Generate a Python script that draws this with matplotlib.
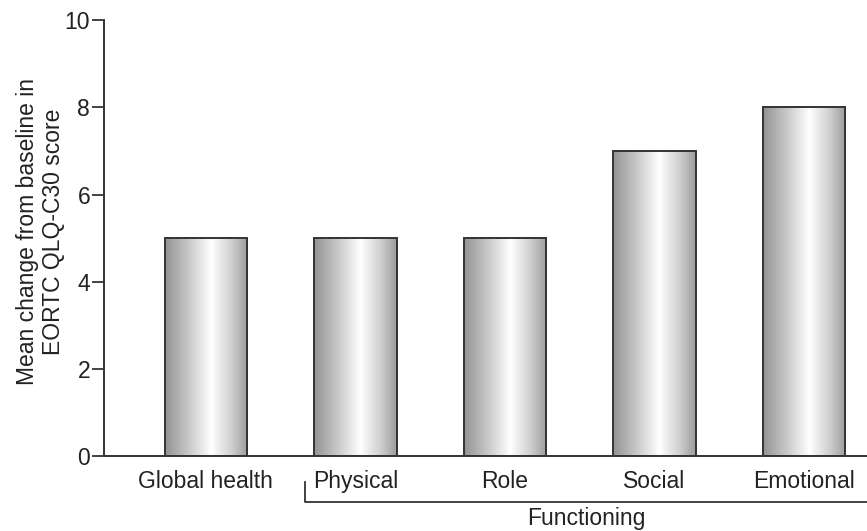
import numpy as np
import matplotlib.pyplot as plt
from matplotlib.colors import LinearSegmentedColormap

plt.rcParams['font.family'] = ['Liberation Sans', 'DejaVu Sans']

categories = ['Global health', 'Physical', 'Role', 'Social', 'Emotional']
values = [5, 5, 5, 7, 8]
yticks = [0, 2, 4, 6, 8, 10]
ylabel = 'Mean change from baseline in\nEORTC QLQ-C30 score'
group_label = 'Functioning'

# cylinder-like shading across each bar
shade = LinearSegmentedColormap.from_list(
    'cyl', [(0.0, '#939393'), (0.3, '#cbcbcb'), (0.56, '#ffffff'),
            (0.8, '#d0d0d0'), (1.0, '#9c9c9c')])
grad = np.linspace(0, 1, 256).reshape(1, -1)

fs = 16.5
fig = plt.figure(figsize=(8.67, 5.31), dpi=100)
ax = fig.add_axes([0.12, 0.141, 0.88, 0.821])

x = np.arange(len(categories))
width = 0.55
bars = ax.bar(x, values, width=width, facecolor='none', edgecolor='#333333',
              linewidth=1.4, zorder=3)
for b in bars:
    x0, w, h = b.get_x(), b.get_width(), b.get_height()
    ax.imshow(grad, cmap=shade, aspect='auto', extent=(x0, x0 + w, 0, h),
              interpolation='bilinear', zorder=2)

ax.set_xlim(-0.68, 4.42)
ax.set_ylim(0, 10)
ax.set_yticks(yticks)
ax.set_xticks(x)
ax.set_xticklabels(categories, fontsize=fs, color='#222222')
ax.tick_params(axis='x', length=0, pad=10)
ax.tick_params(axis='y', length=9, width=1.2, labelsize=fs, colors='#222222', pad=1)
ax.spines['top'].set_visible(False)
ax.spines['right'].set_visible(False)
for s in ('left', 'bottom'):
    ax.spines[s].set_linewidth(1.4)
    ax.spines[s].set_color('#333333')
ax.set_ylabel(ylabel, fontsize=fs, color='#222222', labelpad=0, linespacing=1.15)
ax.yaxis.label.set_y(0.515)

# bracket grouping the functioning scales
trans = ax.get_xaxis_transform()
bx0, bx1 = 0.664, 4.42
ax.plot([bx0, bx0, bx1], [-0.06, -0.1055, -0.1055], transform=trans,
        color='#333333', lw=1.3, clip_on=False)
ax.text((bx0 + bx1) / 2, -0.117, group_label, transform=trans, ha='center',
        va='top', fontsize=fs, color='#222222')

fig.savefig('out.png', dpi=100)
